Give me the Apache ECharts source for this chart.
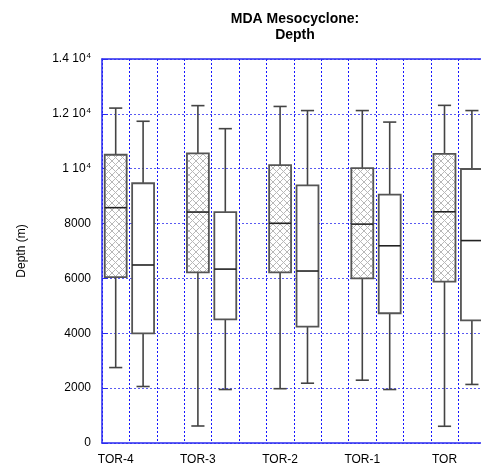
<!DOCTYPE html>
<html>
<head>
<meta charset="utf-8">
<script src="https://cdn.jsdelivr.net/npm/echarts@6/dist/echarts.min.js"></script>
<style>
  html, body { margin: 0; padding: 0; background: #fff; overflow: hidden; }
  /* the plot frame runs past the right edge of the window */
  #chart { width: 520px; height: 467px; }
</style>
</head>
<body>
<div id="chart"></div>
<script>
// Storm categories along the x axis
const categories = ['TOR-4', 'TOR-3', 'TOR-2', 'TOR-1', 'TOR'];

// Box statistics per category: [low whisker, Q1, median, Q3, high whisker] in metres
const hatchedStats = [
  [2750, 6050, 8580, 10510, 12210],
  [620, 6220, 8420, 10560, 12300],
  [1980, 6220, 8010, 10130, 12270],
  [2290, 6000, 7980, 10020, 12120],
  [610, 5880, 8430, 10540, 12310]
];
const openStats = [
  [2060, 4000, 6490, 9470, 11730],
  [1950, 4510, 6340, 8420, 11460],
  [2180, 4240, 6270, 9390, 12120],
  [1950, 4730, 7190, 9055, 11700],
  [2135, 4470, 7380, 9990, 12120]
];

// Y axis tick values
const yTicks = [0, 2000, 4000, 6000, 8000, 10000, 12000, 14000];

// Each category takes three slots: hatched box, open box, gap
const SLOTS_PER_GROUP = 3;
const slotLabels = [];
categories.forEach(function (c) {
  slotLabels.push(c);
  for (let k = 1; k < SLOTS_PER_GROUP; k++) slotLabels.push('');
});

function toRows(stats, offset) {
  return stats.map(function (s, i) {
    return [i * SLOTS_PER_GROUP + offset].concat(s);
  });
}

// Cross-hatch fill pattern
function makeHatch() {
  const size = 7;
  const c = document.createElement('canvas');
  c.width = size; c.height = size;
  const ctx = c.getContext('2d');
  ctx.fillStyle = '#ffffff';
  ctx.fillRect(0, 0, size, size);
  ctx.strokeStyle = '#b8b8b8';
  ctx.lineWidth = 1;
  ctx.beginPath();
  ctx.moveTo(0, 0); ctx.lineTo(size, size);
  ctx.moveTo(size, 0); ctx.lineTo(0, size);
  ctx.stroke();
  return c;
}
const hatchPattern = { image: makeHatch(), repeat: 'repeat' };

function boxRenderer(fill) {
  return function (params, api) {
    const x = api.value(0);
    const low = api.coord([x, api.value(1)]);
    const q1 = api.coord([x, api.value(2)]);
    const med = api.coord([x, api.value(3)]);
    const q3 = api.coord([x, api.value(4)]);
    const high = api.coord([x, api.value(5)]);
    const unit = api.size([1, 0])[0];
    const bw = unit * 0.8;
    const cw = unit * 0.48;
    const cx = low[0];
    const lineStyle = { stroke: '#444', lineWidth: 1.6 };
    return {
      type: 'group',
      children: [
        { type: 'line', shape: { x1: cx, y1: q3[1], x2: cx, y2: high[1] }, style: lineStyle },
        { type: 'line', shape: { x1: cx - cw / 2, y1: high[1], x2: cx + cw / 2, y2: high[1] }, style: lineStyle },
        { type: 'line', shape: { x1: cx, y1: q1[1], x2: cx, y2: low[1] }, style: lineStyle },
        { type: 'line', shape: { x1: cx - cw / 2, y1: low[1], x2: cx + cw / 2, y2: low[1] }, style: lineStyle },
        {
          type: 'rect',
          shape: { x: cx - bw / 2, y: q3[1], width: bw, height: q1[1] - q3[1] },
          style: { fill: fill, stroke: '#555', lineWidth: 1.8 }
        },
        { type: 'line', shape: { x1: cx - bw / 2, y1: med[1], x2: cx + bw / 2, y2: med[1] }, style: { stroke: '#222', lineWidth: 1.6 } }
      ]
    };
  };
}

const blue = '#2a2af0';
const gridBlueV = '#1515ff';
const gridBlueH = '#5a5af2';
const font = "'Liberation Sans', Arial, sans-serif";

const chart = echarts.init(document.getElementById('chart'), null, { renderer: 'canvas' });
chart.setOption({
  animation: false,
  backgroundColor: '#ffffff',
  title: {
    text: 'MDA Mesocyclone:\nDepth',
    left: 290,
    top: 6,
    textAlign: 'center',
    textStyle: { fontFamily: font, fontWeight: 'bold', fontSize: 14, lineHeight: 16, color: '#000' }
  },
  grid: { left: 102, right: 7, top: 59, bottom: 24, containLabel: false },
  xAxis: [
    {
      type: 'category',
      data: slotLabels,
      boundaryGap: true,
      axisLine: { lineStyle: { color: blue, width: 1.5 } },
      axisTick: { inside: true, length: 5, lineStyle: { color: blue } },
      axisLabel: { interval: 0, margin: 11, fontFamily: font, fontSize: 12, color: '#000' },
      splitLine: { show: true, interval: 0, lineStyle: { color: gridBlueV, type: [2, 2], width: 1 } }
    },
    {
      type: 'category',
      data: slotLabels,
      position: 'top',
      boundaryGap: true,
      axisLine: { lineStyle: { color: blue, width: 1.5 } },
      axisTick: { inside: true, length: 5, lineStyle: { color: blue } },
      axisLabel: { show: false },
      splitLine: { show: false }
    }
  ],
  yAxis: {
    type: 'value',
    min: yTicks[0],
    max: yTicks[yTicks.length - 1],
    interval: yTicks[1] - yTicks[0],
    name: 'Depth (m)',
    nameLocation: 'middle',
    nameGap: 74,
    nameRotate: 90,
    nameTextStyle: { fontFamily: font, fontSize: 12, color: '#000' },
    axisLine: { show: true, lineStyle: { color: blue, width: 1.5 } },
    axisTick: { show: true, inside: true, length: 6, lineStyle: { color: blue } },
    axisLabel: {
      margin: 11,
      fontFamily: font,
      fontSize: 12,
      color: '#000',
      formatter: function (v) {
        if (v >= 10000) {
          const m = v / 10000;
          return '{n|' + m + ' 10}{s|4}';
        }
        return String(v);
      },
      rich: {
        n: { fontFamily: font, fontSize: 12, lineHeight: 14, color: '#000' },
        s: { fontFamily: font, fontSize: 8, lineHeight: 8, verticalAlign: 'top', padding: [0, 0, 0, 1], color: '#000' }
      }
    },
    splitLine: { show: true, lineStyle: { color: gridBlueH, type: [2, 2], width: 1 } }
  },
  series: [
    {
      type: 'custom',
      name: 'hatched',
      xAxisIndex: 0,
      renderItem: boxRenderer(hatchPattern),
      encode: { x: 0, y: [1, 2, 3, 4, 5] },
      data: toRows(hatchedStats, 0),
      z: 5
    },
    {
      type: 'custom',
      name: 'open',
      xAxisIndex: 0,
      renderItem: boxRenderer('#ffffff'),
      encode: { x: 0, y: [1, 2, 3, 4, 5] },
      data: toRows(openStats, 1),
      z: 5
    }
  ]
});
</script>
</body>
</html>
